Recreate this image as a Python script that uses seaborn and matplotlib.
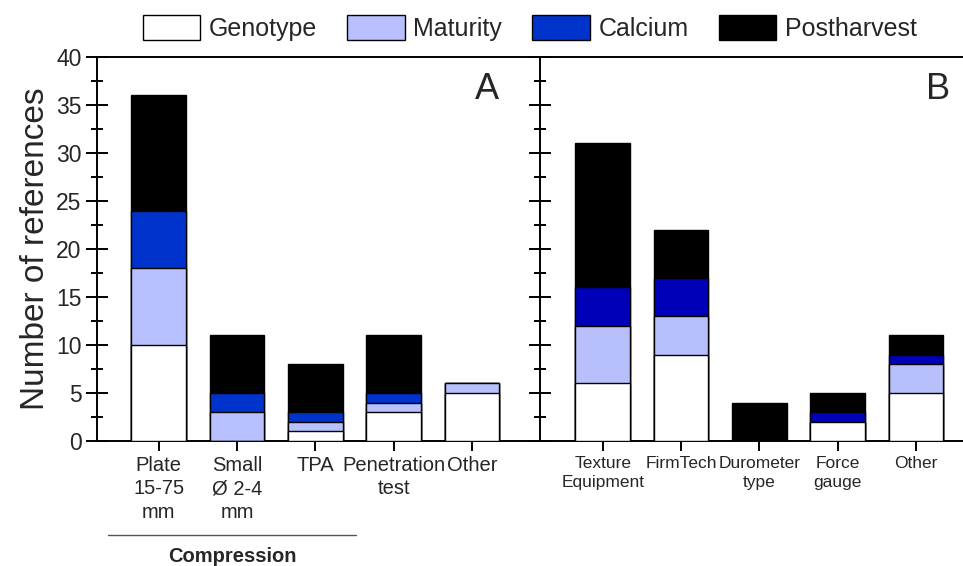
import numpy as np
import pandas as pd
import matplotlib.pyplot as plt
import seaborn as sns
from matplotlib.patches import Patch
from matplotlib.lines import Line2D
from matplotlib.ticker import MultipleLocator

# Panel A: compression / penetration methods
cats_a = ["Plate\n15-75\nmm", "Small\nØ 2-4\nmm", "TPA", "Penetration\ntest", "Other"]
geno_a = [10, 0, 1, 3, 5]
matur_a = [8, 3, 1, 1, 1]
calc_a = [6, 2, 1, 1, 0]
post_a = [12, 6, 5, 6, 0]

# Panel B: equipment
cats_b = ["Texture\nEquipment", "FirmTech", "Durometer\ntype", "Force\ngauge", "Other"]
geno_b = [6, 9, 0, 2, 5]
matur_b = [6, 4, 0, 0, 3]
calc_b = [4, 4, 0, 1, 1]
post_b = [15, 5, 4, 2, 2]

series = ["Genotype", "Maturity", "Calcium", "Postharvest"]
colors_a = ["white", "#b8c0ff", "#0033cc", "black"]
colors_b = ["white", "#b8c0fc", "#0000b8", "black"]

sns.set_style("white")
plt.rcParams["font.family"] = ["Liberation Sans", "DejaVu Sans"]

fig = plt.figure(figsize=(9.63, 5.66), dpi=100)
ax_a = fig.add_axes([97 / 963, 1 - 441 / 566, 443 / 963, 384 / 566])
ax_b = fig.add_axes([540 / 963, 1 - 441 / 566, 423 / 963, 384 / 566], sharey=ax_a)


def stacked(ax, cats, parts, colors):
    df = pd.DataFrame({"cat": cats})
    cum = np.cumsum(np.array(parts), axis=0)
    # draw from the top segment down so lower ones cover the overlap
    for i in range(len(parts) - 1, -1, -1):
        df["val"] = cum[i]
        sns.barplot(data=df, x="cat", y="val", color=colors[i], saturation=1,
                    edgecolor="black", linewidth=1.0, width=0.7,
                    errorbar=None, ax=ax, zorder=3)


stacked(ax_a, cats_a, [geno_a, matur_a, calc_a, post_a], colors_a)
stacked(ax_b, cats_b, [geno_b, matur_b, calc_b, post_b], colors_b)

for ax in (ax_a, ax_b):
    ax.set_ylim(0, 40)
    ax.set_xlabel("")
    ax.set_ylabel("")
    ax.spines["right"].set_visible(False)
    for s in ("left", "top", "bottom"):
        ax.spines[s].set_linewidth(1.4)
        ax.spines[s].set_color("black")
    ax.yaxis.set_major_locator(MultipleLocator(5))
    ax.yaxis.set_minor_locator(MultipleLocator(2.5))
    ax.tick_params(axis="y", which="both", left=True, color="black")
    ax.tick_params(axis="y", which="major", direction="inout", length=16, width=1.4)
    ax.tick_params(axis="y", which="minor", direction="inout", length=8, width=1.4)
    ax.tick_params(axis="x", which="major", bottom=True, direction="inout", length=14,
                   width=1.4, color="black", pad=4)

ax_a.set_xlim(-0.79, 4.87)
ax_b.set_xlim(-0.80, 4.60)

ax_a.set_xticks(range(len(cats_a)))
ax_a.set_xticklabels(cats_a, fontsize=14.5, linespacing=1.28)
ax_b.set_xticks(range(len(cats_b)))
ax_b.set_xticklabels(cats_b, fontsize=12.5, linespacing=1.3)

ax_a.tick_params(axis="y", labelsize=16.5, pad=3)
ax_b.tick_params(axis="y", labelleft=False)
ax_a.set_ylabel("Number of references", fontsize=24, labelpad=4)

ax_a.text(0.88, 0.915, "A", transform=ax_a.transAxes, fontsize=26, ha="center", va="center")
ax_b.text(0.94, 0.915, "B", transform=ax_b.transAxes, fontsize=26, ha="center", va="center")

# group bracket under the first two categories
fig.add_artist(Line2D([108 / 963, 356 / 963], [1 - 535 / 566] * 2, color="#555555", lw=1))
fig.text(232 / 963, 1 - 556 / 566, "Compression", fontsize=14.5, fontweight="bold",
         ha="center", va="center")

handles = [Patch(facecolor=c, edgecolor="black", linewidth=1) for c in colors_a]
fig.legend(handles, series, loc="center", bbox_to_anchor=(0.55, 1 - 28 / 566), ncol=4,
           frameon=False, fontsize=18, handlelength=2.3, handleheight=1.15,
           handletextpad=0.35, columnspacing=1.2)

plt.savefig("out.png", dpi=100)
plt.close()
